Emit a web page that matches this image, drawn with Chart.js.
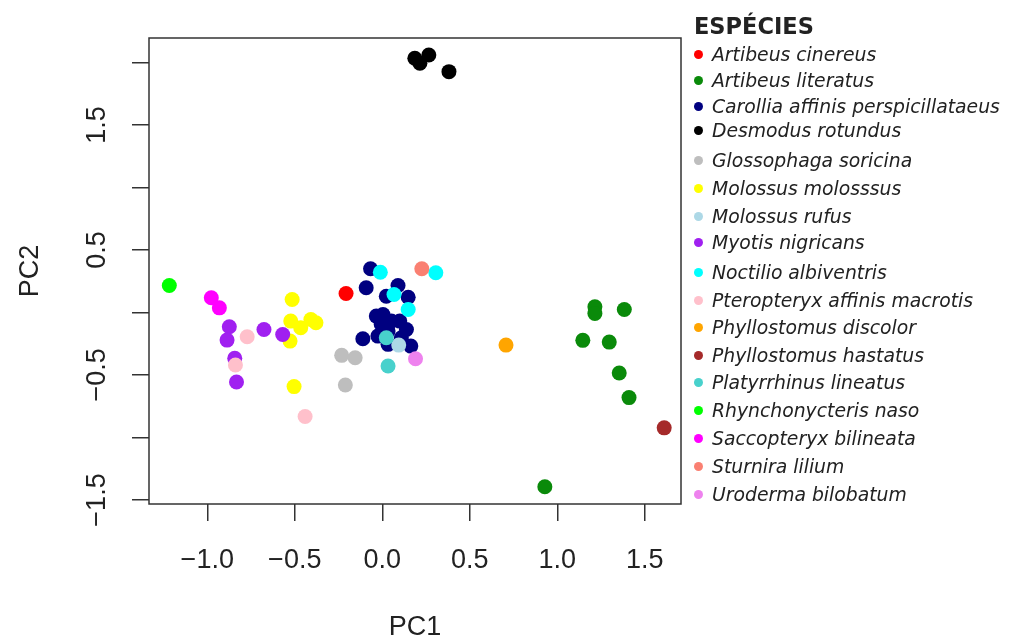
<!DOCTYPE html>
<html>
<head>
<meta charset="utf-8">
<script src="https://cdn.jsdelivr.net/npm/chart.js@4"></script>
<style>
  body { margin: 0; background: #fff; }
  #wrap { position: relative; width: 1011px; height: 642px; }
  #legend { position: absolute; left: 0; top: 0; font-family: "DejaVu Sans", Verdana, sans-serif; color: #222; }
  #legend .title { position: absolute; left: 694px; top: 11px; font-weight: bold; font-size: 22.5px; line-height: 30px; }
  #legend .item { position: absolute; left: 692px; font-style: italic; font-size: 18.8px; line-height: 26px; white-space: nowrap; }
  #legend .dot { display: inline-block; width: 9px; height: 9px; border-radius: 50%; margin: 0 9px 0 2px; vertical-align: 2px; }
</style>
</head>
<body>
<div id="wrap">
  <canvas id="pca" width="1011" height="642"></canvas>
  <div id="legend"></div>
</div>
<script>
const species = [
  'Artibeus cinereus', 'Artibeus literatus', 'Carollia affinis perspicillataeus',
  'Desmodus rotundus', 'Glossophaga soricina', 'Molossus molosssus', 'Molossus rufus',
  'Myotis nigricans', 'Noctilio albiventris', 'Pteropteryx affinis macrotis',
  'Phyllostomus discolor', 'Phyllostomus hastatus', 'Platyrrhinus lineatus',
  'Rhynchonycteris naso', 'Saccopteryx bilineata', 'Sturnira lilium', 'Uroderma bilobatum'
];
const colors = [
  '#ff0000', '#0a8a0a', '#000080', '#000000', '#bebebe', '#ffff00', '#add8e6',
  '#a020f0', '#00ffff', '#ffc0cb', '#ffa500', '#a52a2a', '#48d1cc',
  '#00ff00', '#ff00ff', '#fa8072', '#ee82ee'
];
// PC1 / PC2 scores per species
const pc1 = [
  [-0.207],
  [1.215, 1.215, 1.383, 1.146, 1.297, 1.354, 1.410, 0.929],
  [-0.067, -0.092, 0.090, 0.023, 0.148, -0.034, 0.004, -0.006, 0.052, 0.100, 0.033, -0.111, -0.025, 0.033, 0.109, 0.163, 0.138],
  [0.186, 0.215, 0.266, 0.381],
  [-0.232, -0.155, -0.211],
  [-0.515, -0.523, -0.466, -0.408, -0.379, -0.527, -0.504],
  [0.094],
  [-0.874, -0.887, -0.676, -0.569, -0.843, -0.833],
  [-0.011, 0.306, 0.067, 0.148],
  [-0.772, -0.839, -0.441],
  [0.707],
  [1.611],
  [0.023, 0.033],
  [-1.217],
  [-0.977, -0.931],
  [0.226],
  [0.190]
];
const pc2 = [
  [0.152],
  [0.045, -0.008, 0.024, -0.223, -0.237, -0.484, -0.681, -1.394],
  [0.349, 0.197, 0.215, 0.130, 0.122, -0.029, -0.016, -0.096, -0.069, -0.069, -0.149, -0.210, -0.189, -0.255, -0.202, -0.269, -0.136],
  [2.033, 1.993, 2.059, 1.926],
  [-0.343, -0.362, -0.580],
  [0.104, -0.069, -0.122, -0.056, -0.082, -0.229, -0.593],
  [-0.261],
  [-0.114, -0.221, -0.136, -0.176, -0.367, -0.556],
  [0.322, 0.317, 0.144, 0.024],
  [-0.194, -0.420, -0.832],
  [-0.261],
  [-0.923],
  [-0.202, -0.428],
  [0.215],
  [0.117, 0.037],
  [0.349],
  [-0.370]
];
const xTicks = [-1.0, -0.5, 0.0, 0.5, 1.0, 1.5];
const yTicks = [-1.5, -1.0, -0.5, 0.0, 0.5, 1.0, 1.5, 2.0];
const yLabelled = [-1.5, -0.5, 0.5, 1.5];

// legend rows are not evenly spaced in the original
const legendRowY = [55, 81, 107, 131, 161, 189, 217, 243, 273, 301, 328, 356, 383, 411, 439, 467, 495];

const fmt = v => v.toFixed(1).replace('-', '\u2212');

const datasets = species.map((name, i) => ({
  label: name,
  data: pc1[i].map((x, j) => ({ x: x, y: pc2[i][j] })),
  backgroundColor: colors[i],
  borderWidth: 0,
  pointRadius: 7.5,
  pointHoverRadius: 7.5,
  order: species.length - i
}));

const tickFont = { family: 'Liberation Sans, Arial, sans-serif', size: 27 };

// box round the plot region + rotated y labels, like R
const frame = {
  id: 'frame',
  afterDraw(chart) {
    const a = chart.chartArea, ctx = chart.ctx;
    ctx.save();
    ctx.strokeStyle = '#333';
    ctx.lineWidth = 1.5;
    ctx.strokeRect(a.left, a.top, a.right - a.left, a.bottom - a.top);
    ctx.fillStyle = '#222';
    ctx.font = tickFont.size + 'px ' + tickFont.family;
    ctx.textAlign = 'center';
    ctx.textBaseline = 'middle';
    const ys = chart.scales.y;
    yLabelled.forEach(v => {
      ctx.save();
      ctx.translate(98, ys.getPixelForValue(v));
      ctx.rotate(-Math.PI / 2);
      ctx.fillText(fmt(v), 0, 0);
      ctx.restore();
    });
    ctx.restore();
  }
};

new Chart(document.getElementById('pca'), {
  type: 'scatter',
  data: { datasets: datasets },
  options: {
    responsive: false,
    animation: false,
    layout: { padding: { left: 0, top: 38, right: 330, bottom: 0 } },
    plugins: { legend: { display: false }, tooltip: { enabled: false } },
    scales: {
      x: {
        min: -1.333, max: 1.707,
        afterBuildTicks: s => { s.ticks = xTicks.map(v => ({ value: v })); },
        afterFit: s => { s.height = 138; },
        border: { display: false },
        grid: { drawOnChartArea: false, drawTicks: true, tickLength: 17, color: '#333', lineWidth: 1.5 },
        ticks: { color: '#222', font: tickFont, padding: 23, maxRotation: 0, callback: v => fmt(v) },
        title: { display: true, text: 'PC1', color: '#222', font: tickFont, padding: { top: 0, bottom: -2 } }
      },
      y: {
        min: -1.532, max: 2.195,
        afterBuildTicks: s => { s.ticks = yTicks.map(v => ({ value: v })); },
        afterFit: s => { s.width = 149; },
        border: { display: false },
        grid: { drawOnChartArea: false, drawTicks: true, tickLength: 17, color: '#333', lineWidth: 1.5 },
        ticks: { display: false },
        title: { display: true, text: 'PC2', color: '#222', font: tickFont, padding: { top: 14, bottom: 0 } }
      }
    }
  },
  plugins: [frame]
});

const legend = document.getElementById('legend');
legend.innerHTML = '<div class="title">ESPÉCIES</div>' + species.map((name, i) =>
  '<div class="item" style="top:' + (legendRowY[i] - 13) + 'px"><span class="dot" style="background:' +
  colors[i] + '"></span>' + name + '</div>'
).join('');
</script>
</body>
</html>
